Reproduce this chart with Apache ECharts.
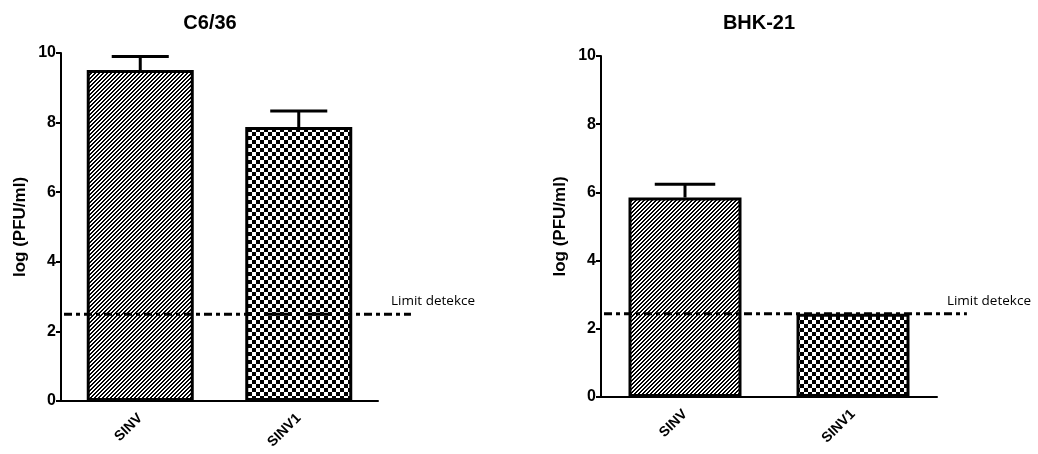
<!DOCTYPE html>
<html>
<head>
<meta charset="utf-8">
<script src="https://cdn.jsdelivr.net/npm/echarts@6/dist/echarts.min.js"></script>
<style>html,body{margin:0;padding:0;background:#fff}#c{width:1038px;height:454px}</style>
</head>
<body>
<div id="c"></div>
<script>
const categories = ['SINV', 'SINV1'];
const titles = ['C6/36', 'BHK-21'];
const yTicks = [0, 2, 4, 6, 8, 10];
const c636Values = [9.51, 7.87];
const c636Errors = [0.39, 0.46];
const bhkValues = [5.85, 2.44];
const bhkErrors = [0.39, 0];
const limits = [2.49, 2.44];
const limitLabel = 'Limit detekce';
const yName = 'log (PFU/ml)';

function makeHatch() {
  const c = document.createElement('canvas');
  c.width = 4; c.height = 4;
  const g = c.getContext('2d');
  g.fillStyle = '#fff'; g.fillRect(0, 0, 4, 4);
  g.fillStyle = '#000';
  for (let x = 0; x < 4; x++) {
    g.fillRect(x, (3 - x + 4) % 4, 1, 1);
    g.fillRect(x, (4 - x + 4) % 4, 1, 1);
  }
  return c;
}
function makeChecker() {
  const s = 4;
  const c = document.createElement('canvas');
  c.width = 2 * s; c.height = 2 * s;
  const g = c.getContext('2d');
  g.fillStyle = '#fff'; g.fillRect(0, 0, 2 * s, 2 * s);
  g.fillStyle = '#000';
  g.fillRect(0, 0, s, s); g.fillRect(s, s, s, s);
  return c;
}
const patterns = [makeHatch(), makeChecker()];

const FONT = '"Liberation Sans", Arial, sans-serif';
const grids = [
  {left: 61, right: 660, top: 53, bottom: 53},
  {left: 601, right: 101, top: 56, bottom: 57}
];
const barWidths = [107, 113];
const limitExtents = [1.104, 1.089];
const valueSets = [c636Values, bhkValues];
const errorSets = [c636Errors, bhkErrors];

const xAxes = [], yAxes = [], series = [], titleOpts = [];
const titleCenters = [205, 754];
for (let i = 0; i < 2; i++) {
  titleOpts.push({
    text: titles[i], left: titleCenters[i], top: 8, textAlign: 'center',
    textStyle: {fontFamily: FONT, fontWeight: 'bold', fontSize: 20, color: '#000'}
  });
  xAxes.push({
    type: 'category', gridIndex: i, data: categories,
    axisLine: {lineStyle: {color: '#000', width: 2}},
    axisTick: {alignWithLabel: true, length: 7, lineStyle: {color: '#000', width: 2}},
    axisLabel: {rotate: 45, color: '#000', fontFamily: FONT, fontWeight: 'bold', fontSize: 14, margin: 15}
  });
  yAxes.push({
    type: 'value', gridIndex: i, min: yTicks[0], max: yTicks[yTicks.length - 1], interval: yTicks[1] - yTicks[0],
    name: yName, nameLocation: 'middle', nameRotate: 90, nameGap: 32,
    nameTextStyle: {fontFamily: FONT, fontWeight: 'bold', fontSize: 17, color: '#000'},
    axisLine: {show: true, lineStyle: {color: '#000', width: 2}},
    axisTick: {show: true, length: 5, lineStyle: {color: '#000', width: 2}},
    axisLabel: {color: '#000', fontFamily: FONT, fontWeight: 'bold', fontSize: 16, margin: 5},
    splitLine: {show: false}
  });
}
for (let i = 0; i < 2; i++) {
  const vals = valueSets[i];
  series.push({
    type: 'bar', xAxisIndex: i, yAxisIndex: i, barWidth: barWidths[i],
    data: vals.map((v, j) => ({
      value: v,
      itemStyle: {color: {image: patterns[j], repeat: 'repeat'}, borderColor: '#000', borderWidth: 3}
    })),
    z: 2
  });
  series.push({
    type: 'custom', xAxisIndex: i, yAxisIndex: i, z: 3,
    data: vals.map((v, j) => [j, v, errorSets[i][j]]),
    renderItem: function (params, api) {
      const err = api.value(2);
      if (!err) return null;
      const base = api.coord([api.value(0), api.value(1)]);
      const top = api.coord([api.value(0), api.value(1) + err]);
      const capHalf = api.size([1, 0])[0] * 0.18;
      const style = {stroke: '#000', lineWidth: 3};
      return {type: 'group', children: [
        {type: 'line', shape: {x1: base[0], y1: base[1], x2: top[0], y2: top[1]}, style: style},
        {type: 'line', shape: {x1: top[0] - capHalf, y1: top[1], x2: top[0] + capHalf, y2: top[1]}, style: style}
      ]};
    }
  });
  const ext = limitExtents[i];
  series.push({
    type: 'custom', xAxisIndex: i, yAxisIndex: i, z: 4, clip: false, silent: true,
    data: [[0, limits[i]]],
    renderItem: function (params, api) {
      const cs = params.coordSys;
      const y = api.coord([0, api.value(1)])[1];
      const x2 = cs.x + cs.width * ext;
      return {type: 'group', children: [
        {type: 'line', shape: {x1: cs.x + 3, y1: y, x2: x2, y2: y},
         style: {stroke: '#000', lineWidth: 3, lineDash: [8, 4, 4, 4]}},
        {type: 'text', x: x2 - 20, y: y - 13,
         style: {text: limitLabel, fill: '#000', font: '13.5px "Open Sans", sans-serif', verticalAlign: 'middle', align: 'left'}}
      ]};
    }
  });
}

const chart = echarts.init(document.getElementById('c'), null, {renderer: 'canvas'});
chart.setOption({
  animation: false,
  backgroundColor: '#fff',
  title: titleOpts,
  grid: grids,
  xAxis: xAxes,
  yAxis: yAxes,
  series: series
});
</script>
</body>
</html>
